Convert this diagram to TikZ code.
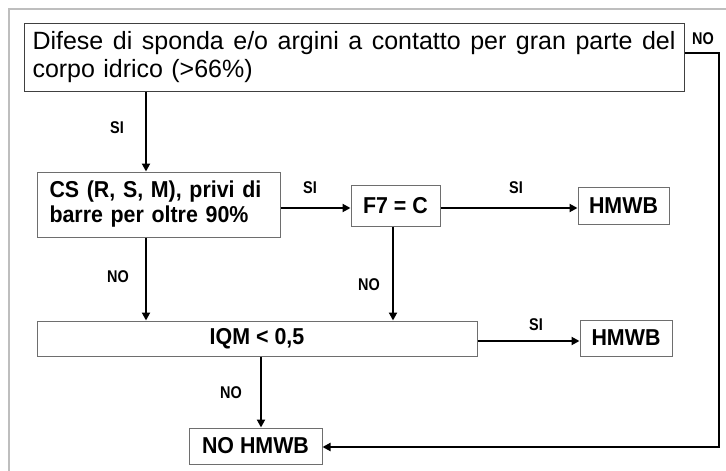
\documentclass[tikz,border=0pt]{standalone}
\usepackage{fontspec}
\setmainfont{Liberation Sans}
\newfontfamily\lblfont[FakeStretch=0.85]{Liberation Sans Bold}
\newfontfamily\boxfont[FakeStretch=0.93]{Liberation Sans Bold}
\usetikzlibrary{arrows.meta}
\definecolor{framegray}{RGB}{190,190,190}
\definecolor{boxgray}{RGB}{110,110,110}
\tikzset{
  box/.style={draw=boxgray, line width=1pt, inner sep=0pt, align=center,
    font=\boxfont\fontsize{23}{25}\selectfont},
  arr/.style={line width=2pt, -{Triangle[length=8pt,width=8pt]}},
  lbl/.style={font=\lblfont\fontsize{17}{17}\selectfont, inner sep=0pt}
}
\begin{document}
\begin{tikzpicture}[x=1pt,y=-1pt]
\useasboundingbox (0,0) rectangle (726,471);
\fill[white] (0,0) rectangle (726,471);
\draw[framegray, line width=1.5pt] (9,471) -- (9,9) -- (726,9);

\node[draw=black!75, line width=1pt, minimum width=660pt, minimum height=68pt,
  inner sep=0pt, text width=643pt, align=left,
  font=\fontsize{25}{28}\selectfont] (top) at (354,57)
  {\hbox to 643pt{Difese \hfill di \hfill sponda \hfill e/o \hfill argini \hfill a \hfill contatto \hfill per \hfill gran \hfill parte \hfill del}\\corpo idrico (>66\%)};

\node[box, minimum width=243pt, minimum height=65pt, text width=218pt, align=left] (cs) at (158.5,204.5)
  {CS (R, S, M), privi di\\barre per oltre 90\%};
\node[box, minimum width=89pt, minimum height=41pt] (f7) at (395.5,205.5) {F7 = C};
\node[box, minimum width=91pt, minimum height=37pt] (h1) at (623.5,205.5) {HMWB};
\node[box, minimum width=440pt, minimum height=35pt] (iqm) at (257,338.5) {IQM < 0,5};
\node[box, minimum width=92pt, minimum height=36pt] (h2) at (626,338) {HMWB};
\node[box, minimum width=133pt, minimum height=36pt] (noh) at (255.5,446) {NO HMWB};

\coordinate (c1) at (146,0);
\coordinate (c2) at (393,0);
\coordinate (c3) at (261,0);
\coordinate (r0) at (0,53);
\coordinate (r1) at (0,208);
\coordinate (r2) at (0,341);
\coordinate (r3) at (0,447);
\coordinate (k1) at (719,53);
\coordinate (k2) at (719,447);

\draw[arr] (top.south -| c1) -- (cs.north -| c1);
\draw[arr] (cs.east |- r1) -- (f7.west |- r1);
\draw[arr] (f7.east |- r1) -- (h1.west |- r1);
\draw[arr] (cs.south -| c1) -- (iqm.north -| c1);
\draw[arr] (f7.south -| c2) -- (iqm.north -| c2);
\draw[arr] (iqm.east |- r2) -- (h2.west |- r2);
\draw[arr] (iqm.south -| c3) -- (noh.north -| c3);
\draw[arr] (top.east |- r0) -- (k1) -- (k2) -- (noh.east |- r3);

\node[lbl] (l1) at (117,128) {SI};
\node[lbl] (l2) at (310,188) {SI};
\node[lbl] (l3) at (516,188) {SI};
\node[lbl] (l4) at (118,277) {NO};
\node[lbl] (l5) at (369,285) {NO};
\node[lbl] (l6) at (536,325) {SI};
\node[lbl] (l7) at (231,393) {NO};
\node[lbl] (l8) at (703,39) {NO};
\end{tikzpicture}
\end{document}
